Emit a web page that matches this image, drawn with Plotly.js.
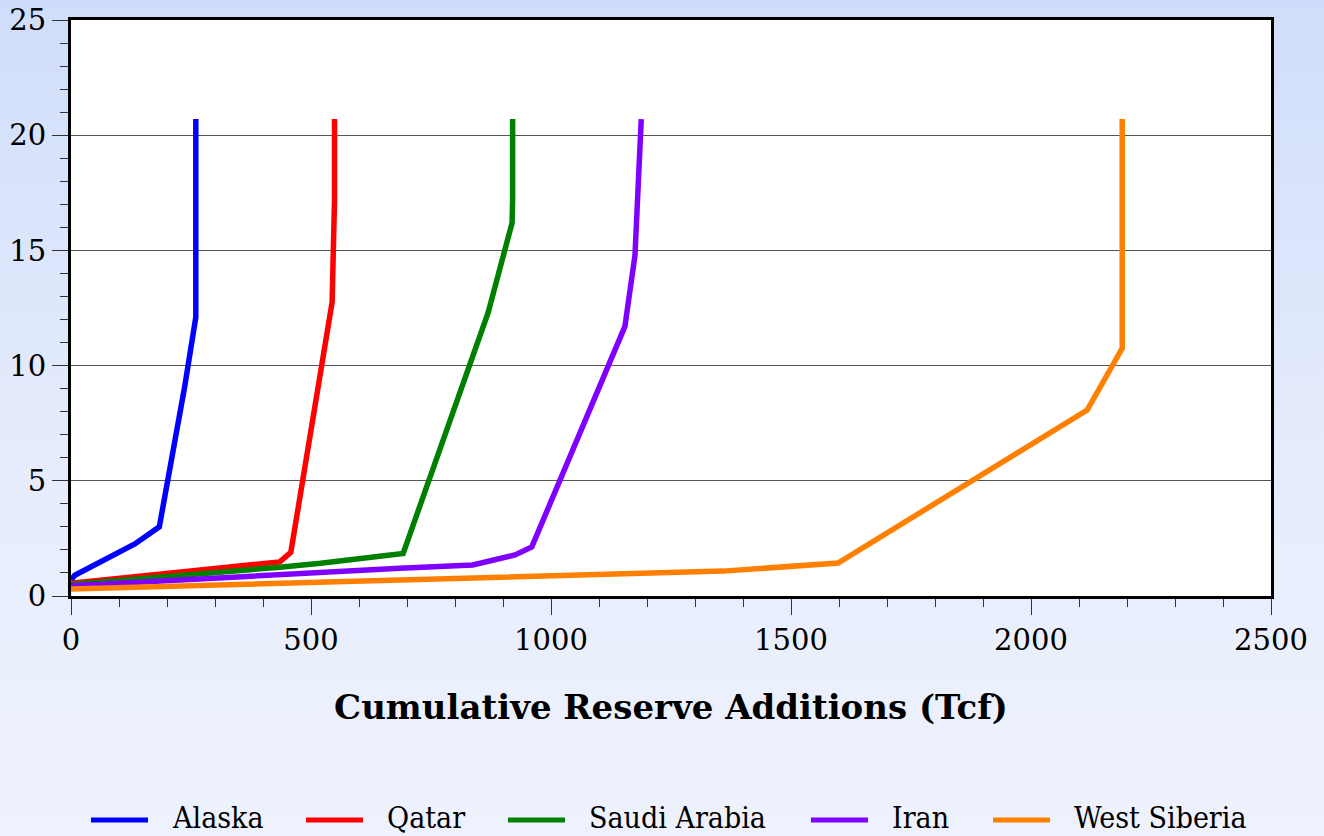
<!DOCTYPE html>
<html>
<head>
<meta charset="utf-8">
<script src="https://cdn.plot.ly/plotly-3.0.1.min.js"></script>
<style>
  html, body { margin: 0; padding: 0; width: 1324px; height: 836px; overflow: hidden;
    background: linear-gradient(to bottom, #d0ddfa 0%, #e6ecfc 55%, #eef2fd 100%); }
  #chart { width: 1324px; height: 836px; }
</style>
</head>
<body>
<div id="chart"></div>
<script>
// ---- data ----
const seriesNames = ["Alaska", "Qatar", "Saudi Arabia", "Iran", "West Siberia"];
const seriesColors = ["#0000ff", "#ff0000", "#008000", "#8000ff", "#ff8000"];

const alaskaX = [0, 8, 133, 184, 237, 260, 260];
const alaskaY = [0.7, 0.9, 2.26, 3.0, 9.1, 12.1, 20.7];

const qatarX = [0, 435, 458, 544, 549, 549];
const qatarY = [0.55, 1.48, 1.9, 12.75, 17.2, 20.7];

const saudiX = [0, 280, 435, 520, 692, 869, 919, 920, 920];
const saudiY = [0.5, 0.95, 1.25, 1.42, 1.85, 12.3, 16.2, 17.2, 20.7];

const iranX = [0, 435, 685, 837, 925, 960, 1154, 1175, 1188, 1188];
const iranY = [0.45, 0.95, 1.2, 1.35, 1.78, 2.13, 11.7, 14.8, 19.8, 20.7];

const siberiaX = [0, 1358, 1598, 2117, 2190, 2190];
const siberiaY = [0.3, 1.08, 1.43, 8.07, 10.75, 20.7];

const xTitle = "Cumulative Reserve Additions (Tcf)";

// ---- build ----
const xs = [alaskaX, qatarX, saudiX, iranX, siberiaX];
const ys = [alaskaY, qatarY, saudiY, iranY, siberiaY];

const traces = seriesNames.map((n, i) => ({
  type: "scatter", mode: "lines", name: n,
  x: xs[i], y: ys[i],
  line: { color: seriesColors[i], width: 5.5 },
  showlegend: false, hoverinfo: "x+y+name"
}));

// custom legend (long line samples like the reference)
const plotL = 71, plotW = 1200, plotB = 596, plotH = 576;
const legLineStart = [91, 306, 508, 811, 993];
const legLineLen = 57, legTextGap = 79, legYpx = 817;
const px2x = p => (p - plotL) / plotW;
const legY = (plotB - legYpx) / plotH;

const shapes = [], annotations = [];
seriesNames.forEach((n, i) => {
  shapes.push({ type: "line", xref: "paper", yref: "paper",
    x0: px2x(legLineStart[i]), x1: px2x(legLineStart[i] + legLineLen), y0: legY - 3 / plotH, y1: legY - 3 / plotH,
    line: { color: seriesColors[i], width: 5 } });
  annotations.push({ xref: "paper", yref: "paper", x: px2x(legLineStart[i] + legTextGap), y: legY,
    xanchor: "left", yanchor: "middle", showarrow: false, text: n,
    font: { family: "DejaVu Serif Condensed, DejaVu Serif, serif", size: 30, color: "#000" } });
});

const layout = {
  width: 1324, height: 836,
  paper_bgcolor: "rgba(0,0,0,0)", plot_bgcolor: "#ffffff",
  margin: { l: 71, r: 53, t: 20, b: 240 },
  showlegend: false,
  font: { family: "DejaVu Serif, serif", color: "#000" },
  xaxis: {
    range: [0, 2500], dtick: 500, tick0: 0,
    showgrid: false, zeroline: false,
    showline: true, linecolor: "#000", linewidth: 3, mirror: true,
    ticks: "outside", ticklen: 16, tickwidth: 1, tickcolor: "#333",
    minor: { dtick: 100, ticks: "outside", ticklen: 8, tickwidth: 1, tickcolor: "#333", showgrid: false },
    tickfont: { size: 29, family: "DejaVu Serif, serif" },
    title: { text: "<b>" + xTitle + "</b>", standoff: 40,
      font: { size: 34, family: "DejaVu Serif, serif" } }
  },
  yaxis: {
    range: [0, 25], dtick: 5, tick0: 0,
    showgrid: true, gridcolor: "#555", gridwidth: 1, zeroline: false,
    showline: true, linecolor: "#000", linewidth: 3, mirror: true,
    ticks: "outside", ticklen: 16, tickwidth: 1, tickcolor: "#333",
    ticklabelstandoff: 0,
    minor: { dtick: 1, ticks: "outside", ticklen: 8, tickwidth: 1, tickcolor: "#333", showgrid: false },
    tickfont: { size: 29, family: "DejaVu Serif, serif" }
  },
  shapes: shapes,
  annotations: annotations
};

Plotly.newPlot("chart", traces, layout, { displayModeBar: false, staticPlot: true });
</script>
</body>
</html>
